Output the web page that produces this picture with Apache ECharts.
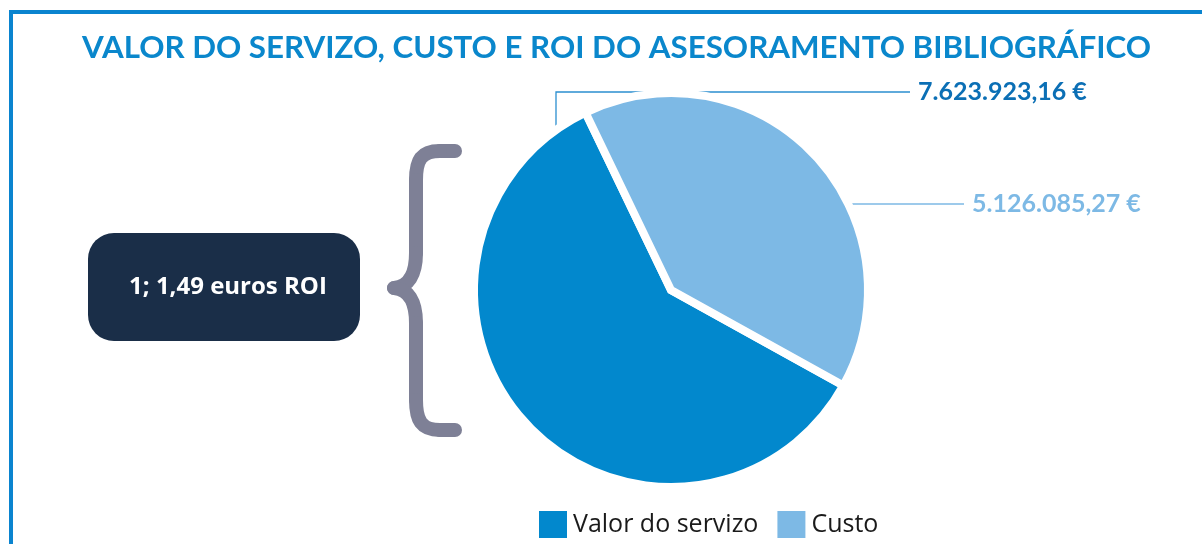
<!DOCTYPE html>
<html>
<head>
<meta charset="utf-8">
<script src="https://cdn.jsdelivr.net/npm/echarts@6/dist/echarts.min.js"></script>
<style>
html,body{margin:0;padding:0;background:#ffffff;}
#chart{width:1202px;height:544px;}
</style>
</head>
<body>
<div id="chart"></div>
<script>
const titleText = 'VALOR DO SERVIZO, CUSTO E ROI DO ASESORAMENTO BIBLIOGRÁFICO';
const categories = ['Valor do servizo', 'Custo'];
const values = [7623923.16, 5126085.27];
const sliceColors = ['#0288cd', '#7db9e5'];
const labelColors = ['#0b6fb5', '#7db9e5'];
const roiText = '1; 1,49 euros ROI';

function fmt(v) {
  const parts = v.toFixed(2).split('.');
  const intPart = parts[0].replace(/\B(?=(\d{3})+(?!\d))/g, '.');
  return intPart + ',' + parts[1] + ' €';
}

const chart = echarts.init(document.getElementById('chart'), null, {renderer: 'canvas'});

const braceStyle = {fill: 'none', stroke: '#7e8096', lineWidth: 14, lineCap: 'round', lineJoin: 'round'};

const option = {
  backgroundColor: '#ffffff',
  animation: false,
  title: {
    text: titleText,
    left: 77,
    top: 27,
    textStyle: {
      fontFamily: 'Lato',
      fontWeight: 'bold',
      fontSize: 31.3,
      color: '#0a87cc'
    }
  },
  legend: {
    data: categories,
    left: 537,
    top: 509,
    padding: 0,
    itemWidth: 30,
    itemHeight: 29,
    itemGap: 17,
    icon: 'rect',
    selectedMode: false,
    textStyle: {
      fontFamily: 'Open Sans',
      fontSize: 25,
      color: '#1a1a1a'
    }
  },
  graphic: [
    {type: 'line', shape: {x1: 9, y1: 12, x2: 1202, y2: 12}, style: {stroke: '#0a84cf', lineWidth: 4}},
    {type: 'line', shape: {x1: 11, y1: 10, x2: 11, y2: 544}, style: {stroke: '#0a84cf', lineWidth: 4}},
    {
      type: 'rect',
      shape: {x: 88, y: 233, width: 272, height: 108, r: 26},
      style: {fill: '#1a2e48'}
    },
    {
      type: 'text',
      x: 228, y: 287,
      style: {
        text: roiText,
        fill: '#ffffff',
        fontFamily: 'Open Sans',
        fontWeight: 'bold',
        fontSize: 24,
        align: 'center',
        verticalAlign: 'middle'
      }
    },
    {type: 'line', shape: {x1: 455, y1: 151, x2: 440, y2: 151}, style: braceStyle},
    {type: 'bezierCurve', shape: {x1: 440, y1: 151, cpx1: 421, cpy1: 151, cpx2: 416, cpy2: 160, x2: 416, y2: 180}, style: braceStyle},
    {type: 'line', shape: {x1: 416, y1: 180, x2: 416, y2: 253}, style: braceStyle},
    {type: 'bezierCurve', shape: {x1: 416, y1: 253, cpx1: 416, cpy1: 275, cpx2: 408, cpy2: 287, x2: 394, y2: 288}, style: braceStyle},
    {type: 'bezierCurve', shape: {x1: 394, y1: 288, cpx1: 408, cpy1: 289, cpx2: 416, cpy2: 301, x2: 416, y2: 323}, style: braceStyle},
    {type: 'line', shape: {x1: 416, y1: 323, x2: 416, y2: 400}, style: braceStyle},
    {type: 'bezierCurve', shape: {x1: 416, y1: 400, cpx1: 416, cpy1: 420, cpx2: 421, cpy2: 430, x2: 440, y2: 430}, style: braceStyle},
    {type: 'line', shape: {x1: 440, y1: 430, x2: 455, y2: 430}, style: braceStyle}
  ],
  series: [{
    type: 'pie',
    center: [671, 290],
    radius: 197,
    startAngle: 331,
    clockwise: true,
    avoidLabelOverlap: false,
    itemStyle: {borderColor: '#ffffff', borderWidth: 8, borderJoin: 'miter'},
    emphasis: {scale: false},
    label: {
      show: true,
      position: 'outside',
      fontFamily: 'Lato',
      fontWeight: 'bold',
      fontSize: 25,
      formatter: function (p) { return fmt(p.value); }
    },
    labelLine: {show: true, length: 10, length2: 10, lineStyle: {width: 1.3}},
    labelLayout: function (params) {
      if (params.dataIndex === 0) {
        return {
          x: 918, y: 92, align: 'left', verticalAlign: 'middle',
          labelLinePoints: [[556, 140], [556, 92], [910, 92]]
        };
      }
      return {
        x: 972, y: 204, align: 'left', verticalAlign: 'middle',
        labelLinePoints: [[846, 204], [906, 204], [964, 204]]
      };
    },
    data: categories.map(function (c, i) {
      return {
        name: c,
        value: values[i],
        itemStyle: {color: sliceColors[i]},
        label: {color: labelColors[i]},
        labelLine: {lineStyle: {color: i === 0 ? '#2b8fd0' : '#7db9e5'}}
      };
    })
  }]
};
chart.setOption(option);
</script>
</body>
</html>
